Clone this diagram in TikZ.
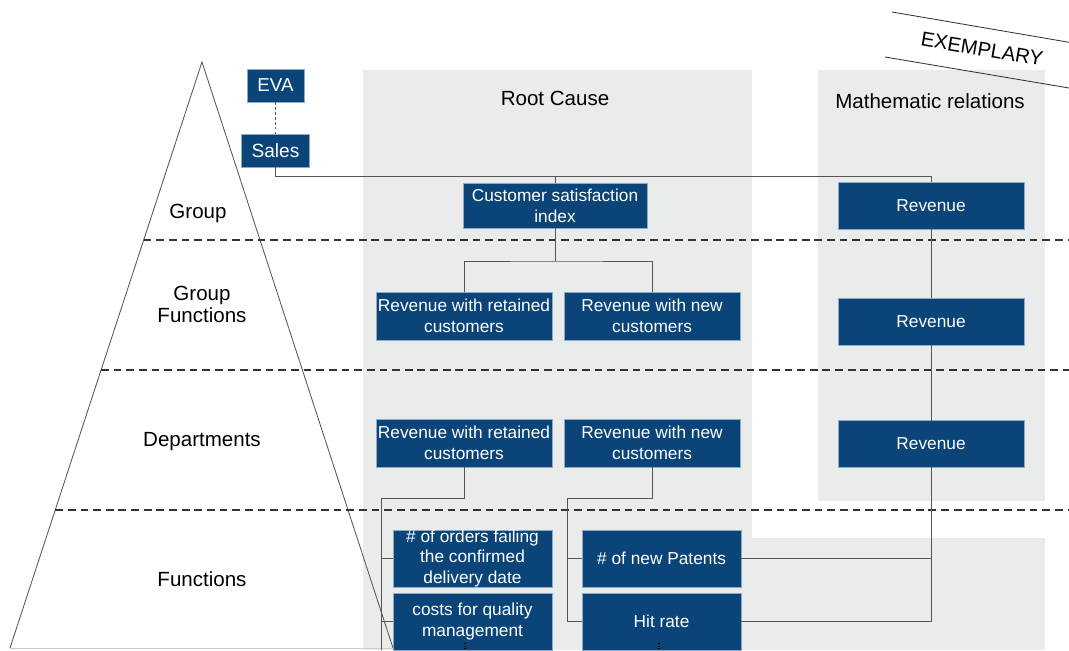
\documentclass[tikz,border=0pt]{standalone}
\usepackage{fontspec}
\setmainfont{Liberation Sans}
\usepackage{xcolor}
\definecolor{boxblue}{HTML}{0A4479}
\definecolor{boxedge}{HTML}{8EA9C8}
\definecolor{panel}{HTML}{EAEBEB}
\definecolor{linegray}{HTML}{555555}
\definecolor{darkgray}{HTML}{333333}
\usepackage{tikz}
\usetikzlibrary{positioning}

\begin{document}
\begin{tikzpicture}[x=0.025cm, y=-0.025cm, node distance = 3mm,
    kpi/.style={
        rectangle, fill = boxblue, draw = boxedge, line width = 0.4pt, text = white,
        align = center, inner sep = 0pt, outer sep = 0pt, font = \fontsize{12.3}{15}\selectfont},
    wide/.style={minimum width = 4.4cm, minimum height = 1.2cm},
    func/.style={minimum width = 3.975cm, minimum height = 1.425cm, font = \fontsize{12.3}{14.5}\selectfont},
    rev/.style={minimum width = 4.65cm, minimum height = 1.17cm},
    level/.style={align = center, font = \fontsize{14.6}{15.6}\selectfont},
    link/.style={draw = linegray, line width = 0.7pt},
    sep/.style={draw = darkgray, dash pattern = on 5.5pt off 3.5pt, line width = 1pt}]
    \useasboundingbox (0,0) rectangle (1069,650);
    \fill[panel] (363,70) rectangle (752,650);
    \fill[panel] (818,70) rectangle (1045,501);
    \fill[panel] (752,538) rectangle (1045,650);
    \coordinate (apex) at (202,62);
    \coordinate (bl) at (10,648);
    \coordinate (br) at (393,648);
    \coordinate (rightedge) at (1069,0);
    \draw[linegray, line width = 0.6pt] (bl) -- (apex) -- (br);
    \draw[gray!40, line width = 0.6pt] (bl) -- (br);
    \foreach \p/\n in {0.3038/1, 0.5256/2, 0.7645/3} {
        \path (apex) -- (bl) coordinate[pos=\p] (d\n);
        \draw[sep] (d\n) -- (d\n -| rightedge);
    }
    \node (Grp) [level] at (198,213) {Group};
    \node (GrpFn) [level] at (202,304) {Group\\Functions};
    \node (Dep) [level] at (202,442) {Departments};
    \node (Fn) [level] at (202,579) {Functions};
    \node (RC) [level] at (555,98) {Root Cause};
    \node (MR) [level] at (930,101) {Mathematic relations};
    \draw[darkgray, line width = 0.6pt] (892,12) -- (1069,42.3);
    \draw[darkgray, line width = 0.6pt] (885,57) -- (1069,88);
    \node (stamp) [rotate = -9.6, font = \fontsize{14.4}{16}\selectfont] at (982,49) {EXEMPLARY};
    \node (EVA) [kpi, minimum width = 1.425cm, minimum height = 0.825cm, font = \fontsize{13.3}{15}\selectfont] at (275.5,85.5) {EVA};
    \node (Sales) [kpi, minimum width = 1.7cm, minimum height = 0.825cm, font = \fontsize{13.6}{15}\selectfont, below = 0.8cm of EVA] {Sales};
    \node (CSI) [kpi, minimum width = 4.6cm, minimum height = 1.125cm] at (555,205.5) {Customer satisfaction\\index};
    \node (RR1) [kpi, wide] at (464,316) {Revenue with retained\\customers};
    \node (RN1) [kpi, wide, right = 0.3cm of RR1] {Revenue with new\\customers};
    \node (RR2) [kpi, wide] at (464,443) {Revenue with retained\\customers};
    \node (RN2) [kpi, wide, right = 0.3cm of RR2] {Revenue with new\\customers};
    \node (F1) [kpi, func, inner ysep = -1.2pt] at (472.5,558.5) {\# of orders failing\\the confirmed\\delivery date};
    \node (F2) [kpi, func, below = 0.15cm of F1] {costs for quality\\management};
    \node (F3) [kpi, func, right = 0.75cm of F1] {\# of new Patents};
    \node (F4) [kpi, func, below = 0.15cm of F3] {Hit rate};
    \node (R1) [kpi, rev] at (931,205.5) {Revenue};
    \node (R2) [kpi, rev] at (931,321.5) {Revenue};
    \node (R3) [kpi, rev] at (931,444) {Revenue};
    \coordinate (topbus) at (0,176);
    \coordinate (lbus) at (381,498);
    \coordinate (rbus) at (567,498);
    \draw[link, dash pattern = on 2pt off 1.5pt] (EVA) -- (Sales);
    \draw[link] (Sales.south) |- (R1.north |- topbus) -- (R1.north);
    \draw[link] (CSI.north) -- (CSI.north |- topbus);
    \draw[link] (CSI.south) -- ++(0,33) coordinate (c1);
    \draw[link] (RR1.north) |- (c1) -| (RN1.north);
    \draw[link] (R1) -- (R2);
    \draw[link] (R2) -- (R3);
    \draw[link] (RR2.south) |- (lbus) -- (lbus |- F2.south);
    \draw[link] (F1.west) -- (F1.west -| lbus);
    \draw[link] (F2.west) -- (F2.west -| lbus);
    \draw[link] (RN2.south) |- (rbus) |- (F4.west);
    \draw[link] (F3.west) -- (F3.west -| rbus);
    \draw[link] (R3.south) |- (F4.east);
    \draw[link] (F3.east) -- (F3.east -| R3.south);
    \coordinate (m1) at (465,643);
    \coordinate (m2) at (659,643);
    \draw[black, densely dotted, line width = 0.8pt] (m1) -- (m1 |- F2.south);
    \draw[black, densely dotted, line width = 0.8pt] (m2) -- (m2 |- F4.south);
\end{tikzpicture}
\end{document}
